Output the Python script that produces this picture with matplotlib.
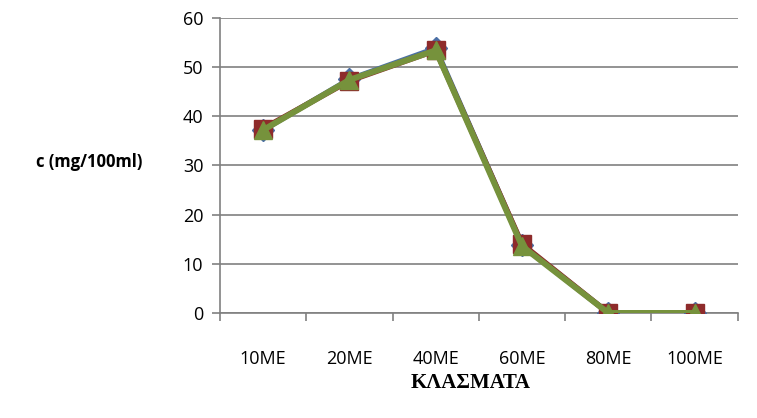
import matplotlib.pyplot as plt

categories = ["10ME", "20ME", "40ME", "60ME", "80ME", "100ME"]
blue_vals = [37.2, 47.5, 53.8, 13.8, 0, 0]
red_vals = [37.5, 47.2, 53.4, 14.0, 0, 0]
green_vals = [37.2, 47.4, 53.4, 13.6, 0, 0]

fig = plt.figure(figsize=(7.57, 4.18), dpi=100)
ax = fig.add_axes([0.2906, 0.2512, 0.684, 0.706])

x = list(range(len(categories)))
ax.plot(x, blue_vals, color="#4A6FA5", lw=4, marker="D", ms=11, zorder=3)
ax.plot(x, red_vals, color="#8E2B2B", lw=4, marker="s", ms=13, zorder=4)
ax.plot(x, green_vals, color="#76923C", lw=4.3, marker="^", ms=13, zorder=5)

ax.set_xlim(-0.5, len(categories) - 0.5)
ax.set_ylim(0, 60)
ax.set_yticks(range(0, 61, 10))
ax.yaxis.grid(True, color="#808080", lw=1.2)
ax.set_axisbelow(True)

# category labels between boundary ticks
ax.set_xticks([i - 0.5 for i in range(len(categories) + 1)])
ax.set_xticklabels([])
ax.set_xticks(x, minor=True)
ax.set_xticklabels(categories, minor=True, fontsize=13, family="Open Sans")
ax.tick_params(axis="x", which="minor", length=0, pad=27)
ax.tick_params(axis="x", which="major", length=6, width=1.2, color="#808080")
ax.tick_params(axis="y", length=6, width=1.2, color="#808080", labelsize=13, pad=6)
for lab in ax.get_yticklabels():
    lab.set_family("Open Sans")

for s in ["top", "right"]:
    ax.spines[s].set_visible(False)
for s in ["left", "bottom"]:
    ax.spines[s].set_color("#808080")
    ax.spines[s].set_linewidth(1.2)

fig.text(0.118, 0.612, "c (mg/100ml)", fontsize=12, fontweight="bold",
         family="Open Sans", ha="center", va="center")
fig.text(0.622, 0.084, "ΚΛΑΣΜΑΤΑ", fontsize=15, fontweight="bold",
         family="Liberation Serif", ha="center", va="center")

fig.savefig("out.png", dpi=100)
